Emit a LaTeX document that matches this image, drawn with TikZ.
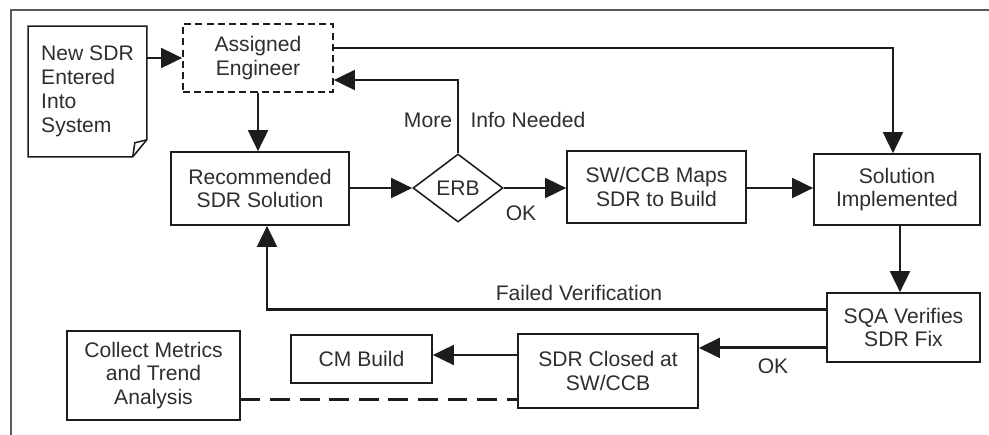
\documentclass[tikz,border=0pt]{standalone}
\usepackage{fontspec}
\setmainfont{Liberation Sans}
\usetikzlibrary{arrows.meta,positioning,shapes.geometric,calc}
\definecolor{ink}{HTML}{1C1C1C}
\definecolor{txt}{HTML}{2E2E2E}
\definecolor{framec}{HTML}{5A5A5A}
\tikzset{
  box/.style={rectangle, draw=ink, line width=1.1pt, text=txt, align=center,
    inner sep=1pt, font=\fontsize{15}{17}\selectfont},
  dbox/.style={box, dash pattern=on 5pt off 3pt},
  decide/.style={diamond, draw=ink, line width=1.1pt, text=txt, inner sep=0pt,
    font=\fontsize{15}{17}\selectfont},
  lbl/.style={text=txt, inner sep=0pt, font=\fontsize{15}{17}\selectfont},
  conn/.style={-{Triangle[length=15pt,width=14pt]}, draw=ink, line width=2.1pt},
  link/.style={draw=ink, line width=2.1pt},
}

\begin{document}
\begin{tikzpicture}[x=0.025cm, y=-0.025cm]
  \useasboundingbox (0,0) rectangle (989,435);
  % page frame (cut at right and bottom)
  \draw[framec, line width=1.4pt] (11,435) -- (11,10) -- (989,10);
  % nodes
  \node[box, draw=none, align=left, minimum width=2.925cm, minimum height=3.225cm]
    (newsdr) at (87.5,91.5) {New SDR\\Entered\\Into\\System};
  \draw[ink, line width=1.1pt] (newsdr.north west) -- (newsdr.north east)
    -- ($(newsdr.south east)+(0,-17)$) -- ($(newsdr.south east)+(-14,0)$)
    -- (newsdr.south west) -- cycle;
  \draw[ink, line width=1.1pt] ($(newsdr.south east)+(0,-17)$)
    -- ($(newsdr.south east)+(-12,-14)$) -- ($(newsdr.south east)+(-14,0)$);
  \node[dbox, minimum width=3.75cm, minimum height=1.7cm] (ae) at (258,58) {Assigned\\Engineer};
  \node[box, minimum width=4.45cm, minimum height=1.825cm] (rec) at (260,188.5) {Recommended\\SDR Solution};
  \node[decide, minimum width=2.25cm, minimum height=1.7cm] (erb) at (458,188) {ERB};
  \node[box, minimum width=4.475cm, minimum height=1.8cm] (swccb) at (656.5,187) {SW/CCB Maps\\SDR to Build};
  \node[box, minimum width=4.15cm, minimum height=1.775cm] (sol) at (897,189.5) {Solution\\Implemented};
  \node[box, minimum width=3.825cm, minimum height=1.725cm] (sqa) at (903.5,327.5) {SQA Verifies\\SDR Fix};
  \node[box, minimum width=4.5cm, minimum height=1.85cm] (closed) at (608,371) {SDR Closed at\\SW/CCB};
  \node[box, minimum width=3.525cm, minimum height=1.2cm] (cmb) at (361.5,359) {CM Build};
  \node[box, minimum width=4.325cm, minimum height=2.225cm] (metrics) at (153.5,375.5) {Collect Metrics\\and Trend\\Analysis};
  % labels
  \node[lbl, anchor=base] (more) at (428,127) {More};
  \node[lbl, anchor=base] (info) at (528,127) {Info Needed};
  \node[lbl, anchor=base] (ok1) at (521,220) {OK};
  \node[lbl, anchor=base] (failed) at (579,300) {Failed Verification};
  \node[lbl, anchor=base] (ok2) at (773,373) {OK};
  % connectors
  \draw[conn] (newsdr.east |- ae.west) -- (ae.west);
  \draw[conn] ([yshift=0.25cm]ae.east) -| ([xshift=-0.1cm]sol.north);
  \draw[conn] (erb.north) |- ([yshift=-0.55cm]ae.east);
  \draw[conn] (ae.south) -- (ae.south |- rec.north);
  \draw[conn] (rec.east |- erb.west) -- (erb.west);
  \draw[conn] (erb.east) -- (swccb.west |- erb.east);
  \draw[conn] (swccb.east |- erb.east) -- (sol.west |- erb.east);
  \draw[conn] ([xshift=0.075cm]sol.south) -- ([xshift=0.075cm]sol.south |- sqa.north);
  \draw[conn] ([yshift=0.46cm]sqa.west) -| ([xshift=0.175cm]rec.south);
  \draw[conn] ([yshift=-0.51cm]sqa.west) -- ([yshift=-0.51cm]sqa.west -| closed.east);
  \draw[conn] ([yshift=0.4cm]closed.west) -- ([yshift=0.4cm]closed.west -| cmb.east);
  \draw[link, dash pattern=on 14pt off 7pt] ([yshift=-0.61cm]metrics.east)
    -- ([yshift=-0.61cm]metrics.east -| closed.west);
\end{tikzpicture}
\end{document}
